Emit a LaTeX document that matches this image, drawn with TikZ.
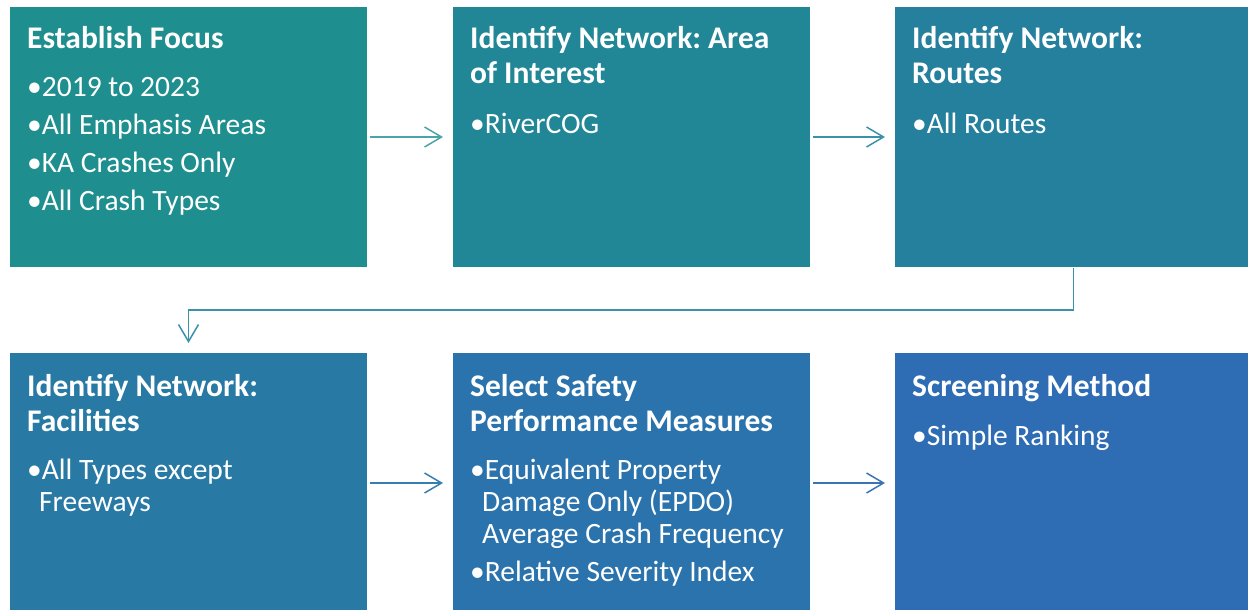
\documentclass[tikz,border=0pt]{standalone}
\usepackage{fontspec}
\setmainfont{Carlito}
\usetikzlibrary{arrows.meta}
\definecolor{cA}{RGB}{30,142,142}
\definecolor{cB}{RGB}{33,135,150}
\definecolor{cC}{RGB}{36,128,157}
\definecolor{cD}{RGB}{40,122,165}
\definecolor{cE}{RGB}{43,115,172}
\definecolor{cF}{RGB}{46,108,180}
\definecolor{aA}{RGB}{75,165,168}
\definecolor{aB}{RGB}{60,145,170}
\definecolor{aC}{RGB}{55,125,175}
\definecolor{aD}{RGB}{60,115,180}
\begin{document}
\begin{tikzpicture}[x=1pt,y=-1pt,
  box/.style={rectangle, anchor=north west, minimum width=357pt, minimum height=260pt, inner sep=0pt, outer sep=0pt},
  ttl/.style={anchor=base west, inner sep=0pt, text=white, font=\frenchspacing\bfseries\fontsize{31.5}{36}\selectfont},
  itm/.style={anchor=base west, inner sep=0pt, text=white, font=\frenchspacing\fontsize{29.5}{34}\selectfont},
  arr/.style={line width=1.5pt, -{Straight Barb[length=17pt,width=20pt,line width=1.5pt]}}]
\useasboundingbox (0,0) rectangle (1248,610);
% boxes
\node[box, fill=cA] (b1) at (10,7) {};
\node[box, fill=cB] (b2) at (453,7) {};
\node[box, fill=cC] (b3) at (895,7) {};
\node[box, fill=cD] (b4) at (10,353) {};
\node[box, fill=cE] (b5) at (453,353) {};
\node[box, fill=cF] (b6) at (895,353) {};
% box 1
\node[ttl] (t1) at (27,49) {Establish Focus};
\node[itm] (p1a) at (27,96) {•2019 to 2023};
\node[itm] (p1b) at (27,134) {•All Emphasis Areas};
\node[itm] (p1c) at (27,172) {•KA Crashes Only};
\node[itm] (p1d) at (27,210) {•All Crash Types};
% box 2
\node[ttl] (t2a) at (470,49) {Identify Network: Area};
\node[ttl] (t2b) at (470,84) {of Interest};
\node[itm] (p2a) at (470,133) {•RiverCOG};
% box 3
\node[ttl] (t3a) at (912,49) {Identify Network:};
\node[ttl] (t3b) at (912,84) {Routes};
\node[itm] (p3a) at (912,133) {•All Routes};
% box 4
\node[ttl] (t4a) at (27,396) {Identify Network:};
\node[ttl] (t4b) at (27,431) {Facilities};
\node[itm] (p4a) at (27,479) {•All Types except};
\node[itm] (p4b) at (39,511) {Freeways};
% box 5
\node[ttl] (t5a) at (470,396) {Select Safety};
\node[ttl] (t5b) at (470,431) {Performance Measures};
\node[itm] (p5a) at (470,479) {•Equivalent Property};
\node[itm] (p5b) at (482,511) {Damage Only (EPDO)};
\node[itm] (p5c) at (482,543) {Average Crash Frequency};
\node[itm] (p5d) at (470,581) {•Relative Severity Index};
% box 6
\node[ttl] (t6a) at (912,396) {Screening Method};
\node[itm] (p6a) at (912,445) {•Simple Ranking};
% connectors
\draw[arr, aA] ([xshift=3pt]b1.east) -- ([xshift=-10pt]b2.west);
\draw[arr, aB] ([xshift=3pt]b2.east) -- ([xshift=-10pt]b3.west);
\draw[arr, aB] ([yshift=-1pt]b3.south) -- ++(0,42) -| ([yshift=10pt]b4.north);
\draw[arr, aC] ([xshift=3pt]b4.east) -- ([xshift=-10pt]b5.west);
\draw[arr, aD] ([xshift=3pt]b5.east) -- ([xshift=-10pt]b6.west);
\end{tikzpicture}
\end{document}
